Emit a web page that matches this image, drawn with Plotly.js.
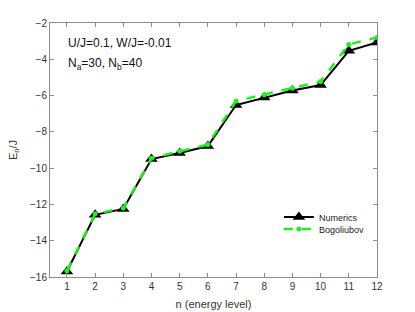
<!DOCTYPE html>
<html><head><meta charset="utf-8">
<script src="https://cdn.plot.ly/plotly-3.0.1.min.js"></script>
<style>html,body{margin:0;padding:0;background:#fff}#chart{width:415px;height:312px}</style>
</head><body><div id="chart"></div>
<script>
const levels = [1,2,3,4,5,6,7,8,9,10,11,12];
const numerics = [-15.7,-12.57,-12.25,-9.5,-9.17,-8.78,-6.52,-6.1,-5.72,-5.42,-3.53,-3.07];
const bogoliubov = [-15.65,-12.52,-12.2,-9.45,-9.07,-8.7,-6.3,-5.95,-5.6,-5.22,-3.18,-2.8];
const xTicks = [1,2,3,4,5,6,7,8,9,10,11,12];
const yTicks = [-16,-14,-12,-10,-8,-6,-4,-2];

const FONT = 'Liberation Sans, Arial, sans-serif';
const traces = [
  {x: levels, y: numerics, name: 'Numerics', mode: 'lines+markers', legend: 'legend',
   line: {color: '#000', width: 2},
   marker: {symbol: 'triangle-up', size: 11, color: '#000'}},
  {x: levels, y: bogoliubov, name: 'Bogoliubov', mode: 'lines+markers', legend: 'legend2',
   line: {color: '#22ee22', width: 2.5, dash: 'dash'},
   marker: {symbol: 'circle', size: 5, color: '#22ee22'}}
];
const axisCommon = {showline: true, linecolor: '#8c8c8c', linewidth: 1, mirror: 'ticks',
  ticks: 'inside', ticklen: 4, tickcolor: '#8c8c8c', showgrid: false, zeroline: false,
  tickfont: {family: FONT, size: 10, color: '#333'}};
const legendCommon = {xanchor: 'left', yanchor: 'middle', bgcolor: 'rgba(0,0,0,0)',
  font: {family: FONT, size: 9, color: '#222'}, borderwidth: 0};
const layout = {
  width: 415, height: 312,
  margin: {l: 50, r: 38, t: 23, b: 35},
  paper_bgcolor: '#fff', plot_bgcolor: '#fff',
  showlegend: true,
  legend: Object.assign({}, legendCommon, {x: 0.7, y: 0.236}),
  legend2: Object.assign({}, legendCommon, {x: 0.7, y: 0.189}),
  xaxis: Object.assign({}, axisCommon, {range: [0.4, 12], tickvals: xTicks,
    title: {text: 'n (energy level)', standoff: 9, font: {family: FONT, size: 11, color: '#333'}}}),
  yaxis: Object.assign({}, axisCommon, {range: [-16, -2], tickvals: yTicks,
    title: {text: 'E<sub>n</sub>/J', standoff: 10, font: {family: FONT, size: 11, color: '#333'}}}),
  annotations: [
    {xref: 'paper', yref: 'paper', x: 0.05, y: 0.92, xanchor: 'left', yanchor: 'middle', showarrow: false,
     text: 'U/J=0.1, W/J=-0.01', font: {family: FONT, size: 12, color: '#111'}},
    {xref: 'paper', yref: 'paper', x: 0.05, y: 0.84, xanchor: 'left', yanchor: 'middle', showarrow: false,
     text: 'N<sub>a</sub>=30, N<sub>b</sub>=40', font: {family: FONT, size: 12, color: '#111'}}
  ]
};
Plotly.newPlot('chart', traces, layout, {displayModeBar: false, staticPlot: true});
</script></body></html>
